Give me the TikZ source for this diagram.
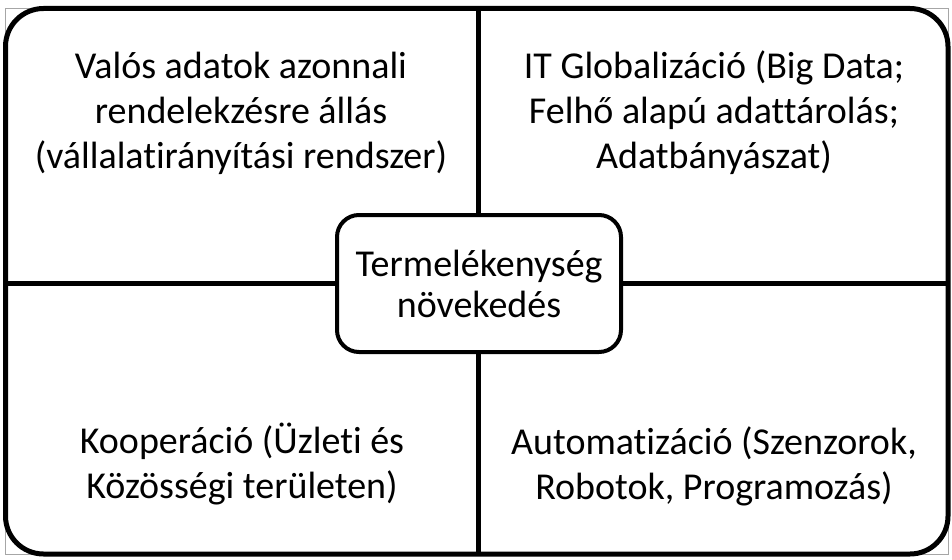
\documentclass[tikz,border=0pt]{standalone}
\usepackage{fontspec}
\setmainfont{Carlito}[Ligatures=NoCommon]
\begin{document}
\begin{tikzpicture}[x=1pt,y=-1pt,
  txt/.style={align=center,font=\fontsize{38}{45}\selectfont,inner sep=0pt,anchor=center},
  frame/.style={draw=black,line width=5pt,rounded corners=38pt},
  divider/.style={draw=black,line width=5pt},
  centerbox/.style={draw=black,fill=white,line width=4pt,rounded corners=22pt,minimum width=284pt,minimum height=137pt,align=center,font=\fontsize{38}{41}\selectfont,inner sep=0pt}]
\useasboundingbox (0,0) rectangle (952,559);
\draw[gray!70,line width=0.8pt] (5.5,8.5) rectangle (948,554);
\coordinate (tl) at (5.5,8.5);
\coordinate (br) at (948,554);
\coordinate (top) at (478,8.5);
\coordinate (bot) at (478,554);
\coordinate (lft) at (5.5,283);
\coordinate (rgt) at (948,283);
\draw[divider] (top) -- (bot);
\draw[divider] (lft) -- (rgt);
\draw[frame] (tl) rectangle (br);
\node[centerbox] (c) at (479,283.5) {Termelékenység\\növekedés};
\node[txt] (q1) at (241,113) {Valós adatok azonnali\\rendelekzésre állás\\(vállalatirányítási rendszer)};
\node[txt] (q2) at (714,113) {IT Globalizáció (Big Data;\\Felhő alapú adattárolás;\\Adatbányászat)};
\node[txt] (q3) at (242,464.5) {Kooperáció (Üzleti és\\Közösségi területen)};
\node[txt] (q4) at (714,466.5) {Automatizáció (Szenzorok,\\Robotok, Programozás)};
\end{tikzpicture}
\end{document}
